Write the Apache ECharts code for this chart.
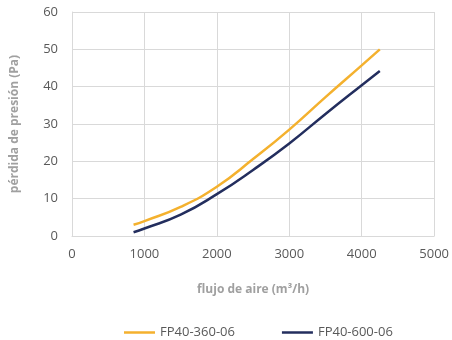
<!DOCTYPE html>
<html>
<head>
<meta charset="utf-8">
<script src="https://cdn.jsdelivr.net/npm/echarts@6/dist/echarts.min.js"></script>
<style>
  html, body { margin: 0; padding: 0; background: #fff; }
  #chart { width: 452px; height: 340px; }
</style>
</head>
<body>
<div id="chart"></div>
<script>
// datos
var caudal = [850, 1000, 1500, 2000, 2500, 3000, 3500, 4000, 4250];
var fp360 = [3.0, 4.0, 7.8, 13.2, 20.6, 28.5, 37.2, 45.7, 50.0];
var fp600 = [1.0, 2.0, 5.7, 11.2, 17.7, 24.8, 32.7, 40.4, 44.2];
var nombres = ['FP40-360-06', 'FP40-600-06'];
var colores = ['#F4B12E', '#232E5E'];

function pares(xs, ys) {
    return xs.map(function (x, i) { return [x, ys[i]]; });
}

var dom = document.getElementById('chart');
var chart = echarts.init(dom);

var gris = '#d9d9d9';
var fuente = 'Open Sans';

var option = {
    animation: false,
    color: colores,
    grid: { left: 72, right: 16, top: 12, bottom: 104 },
    legend: {
        top: 321,
        left: 119,
        icon: 'rect',
        itemWidth: 31,
        itemHeight: 2.5,
        itemGap: 47,
        textStyle: { color: '#595959', fontSize: 13, fontFamily: fuente },
        data: nombres
    },
    xAxis: {
        type: 'value',
        min: 0,
        max: 5000,
        interval: 1000,
        name: 'flujo de aire (m³/h)',
        nameLocation: 'middle',
        nameGap: 48,
        nameTextStyle: { color: '#a0a0a0', fontWeight: 'bold', fontSize: 12, fontFamily: fuente },
        axisLine: { show: true, lineStyle: { color: gris } },
        axisTick: { show: false },
        axisLabel: {
            color: '#595959', fontSize: 13, fontFamily: fuente, margin: 12,
            formatter: function (v) { return String(v); }
        },
        splitLine: { show: true, lineStyle: { color: gris } }
    },
    yAxis: {
        type: 'value',
        min: 0,
        max: 60,
        interval: 10,
        name: 'pérdida de presión (Pa)',
        nameLocation: 'middle',
        nameGap: 51,
        nameTextStyle: { color: '#a0a0a0', fontWeight: 'bold', fontSize: 12, fontFamily: fuente },
        axisLine: { show: true, lineStyle: { color: gris } },
        axisTick: { show: false },
        axisLabel: { color: '#595959', fontSize: 13, fontFamily: fuente, margin: 14 },
        splitLine: { show: true, lineStyle: { color: gris } }
    },
    series: [
        {
            name: nombres[0],
            type: 'line',
            smooth: true,
            symbol: 'none',
            lineStyle: { width: 2.5 },
            data: pares(caudal, fp360)
        },
        {
            name: nombres[1],
            type: 'line',
            smooth: true,
            symbol: 'none',
            lineStyle: { width: 2.5 },
            data: pares(caudal, fp600)
        }
    ]
};
chart.setOption(option);
</script>
</body>
</html>
